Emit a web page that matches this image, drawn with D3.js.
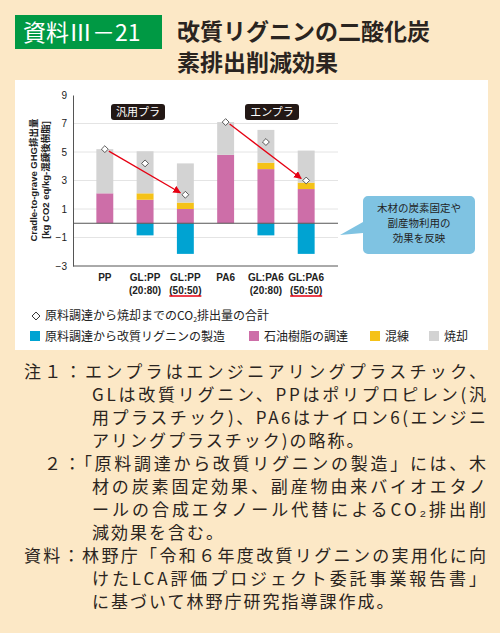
<!DOCTYPE html>
<html>
<head>
<meta charset="utf-8">
<script src="https://cdn.jsdelivr.net/npm/d3@7"></script>
<style>
	body { margin: 0; background: #fce8c6; }
	svg { display: block; font-family: "Noto Sans CJK JP", sans-serif; }
</style>
</head>
<body>
<svg id="chart" width="500" height="633"></svg>
<script>
	// chart data
	var categories = ['PP', 'GL:PP|(20:80)', 'GL:PP|(50:50)', 'PA6', 'GL:PA6|(20:80)', 'GL:PA6|(50:50)'];
	var lignin = [0, -0.85, -2.15, 0, -0.85, -2.15];      // 原料調達から改質リグニンの製造
	var resin = [2.1, 1.65, 1.0, 4.8, 3.8, 2.4];          // 石油樹脂の調達
	var kneading = [0, 0.45, 0.45, 0, 0.45, 0.45];        // 混練
	var incineration = [3.1, 2.95, 2.75, 2.3, 2.3, 2.25]; // 焼却
	var totals = [5.2, 4.2, 2.0, 7.1, 5.7, 3.0];
	var yTicks = [-3, -1, 1, 3, 5, 7, 9];
	var underlined = [2, 5];

	var colors = { lignin: '#00a3d2', resin: '#cd6ea8', kneading: '#f5c218', incineration: '#d3d3d3' };

	var svg = d3.select('#chart');

	// header
	svg.append('rect').attr('x', 15).attr('y', 15).attr('width', 147).attr('height', 34).attr('fill', '#009944');
	svg.append('text').attr('x', 23).attr('y', 41).attr('fill', '#fff').attr('font-size', 23).text('資料Ⅲ－21');
	svg.append('text').attr('x', 177).attr('y', 40).attr('fill', '#2a2420').attr('font-size', 23).attr('font-weight', 'bold').text('改質リグニンの二酸化炭');
	svg.append('text').attr('x', 177).attr('y', 71).attr('fill', '#2a2420').attr('font-size', 23).attr('font-weight', 'bold').text('素排出削減効果');

	// white panel
	svg.append('rect').attr('x', 15).attr('y', 80).attr('width', 473).attr('height', 270).attr('fill', '#fff');

	var x = d3.scaleBand().domain(d3.range(categories.length)).range([73, 338]).padding(0.58);
	var y = d3.scaleLinear().domain([-3, 9]).range([266, 95]);

	var g = svg.append('g');

	// grid
	g.selectAll('.grid').data(yTicks.filter(function(d) { return d > -3 && d < 9; }))
		.enter().append('line')
		.attr('x1', 73).attr('x2', 338)
		.attr('y1', function(d) { return y(d); }).attr('y2', function(d) { return y(d); })
		.attr('stroke', '#e4e4e4');

	// stacked bars
	categories.forEach(function(c, i) {
		var bx = x(i), bw = x.bandwidth();
		var b0 = resin[i], b1 = b0 + kneading[i], b2 = b1 + incineration[i];
		var segs = [
			[lignin[i], 0, colors.lignin],
			[0, b0, colors.resin],
			[b0, b1, colors.kneading],
			[b1, b2, colors.incineration]
		];
		segs.forEach(function(s) {
			if (s[0] === s[1]) return;
			g.append('rect').attr('x', bx).attr('width', bw)
				.attr('y', y(Math.max(s[0], s[1])))
				.attr('height', Math.abs(y(s[0]) - y(s[1])))
				.attr('fill', s[2]);
		});
	});

	// zero line and axes
	g.append('line').attr('x1', 73).attr('x2', 338).attr('y1', y(0)).attr('y2', y(0)).attr('stroke', '#555');
	var yAxis = g.append('g').attr('transform', 'translate(73,0)')
		.call(d3.axisLeft(y).tickValues(yTicks).tickSize(0).tickPadding(6));
	yAxis.select('.domain').attr('stroke', '#555');
	yAxis.selectAll('text').attr('font-size', 10).attr('font-family', 'Liberation Sans, sans-serif').attr('fill', '#222');
	g.append('line').attr('x1', 73).attr('x2', 338).attr('y1', 266).attr('y2', 266).attr('stroke', '#555');

	// arrows
	var defs = svg.append('defs');
	defs.append('marker').attr('id', 'ah').attr('viewBox', '0 0 10 10').attr('refX', 9).attr('refY', 5)
		.attr('markerWidth', 6).attr('markerHeight', 6).attr('orient', 'auto')
		.append('path').attr('d', 'M0,0L10,5L0,10z').attr('fill', '#e60012');
	[[0, 2], [3, 5]].forEach(function(p) {
		var x1 = x(p[0]) + x.bandwidth() / 2, x2 = x(p[1]) + x.bandwidth() / 2;
		g.append('line').attr('x1', x1 + 4).attr('y1', y(totals[p[0]]) + 2)
			.attr('x2', x2 - 5).attr('y2', y(totals[p[1]]) - 2)
			.attr('stroke', '#e60012').attr('stroke-width', 1.3).attr('marker-end', 'url(#ah)');
	});

	// totals diamonds
	g.selectAll('.dia').data(totals).enter().append('path')
		.attr('d', d3.symbol().type(d3.symbolDiamond2).size(30))
		.attr('transform', function(d, i) { return 'translate(' + (x(i) + x.bandwidth() / 2) + ',' + y(d) + ')'; })
		.attr('fill', '#fff').attr('stroke', '#333').attr('stroke-width', 0.8);

	// group labels
	[['汎用プラ', 138], ['エンプラ', 272]].forEach(function(l) {
		g.append('rect').attr('x', l[1] - 27).attr('y', 104).attr('width', 54).attr('height', 16).attr('rx', 3).attr('fill', '#231815');
		g.append('text').attr('x', l[1]).attr('y', 116).attr('text-anchor', 'middle').attr('fill', '#fff').attr('font-size', 11).text(l[0]);
	});

	// category labels
	categories.forEach(function(c, i) {
		var cx = x(i) + x.bandwidth() / 2;
		c.split('|').forEach(function(line, j) {
			g.append('text').attr('x', cx).attr('y', 281 + j * 13).attr('text-anchor', 'middle')
				.attr('font-size', 10).attr('font-weight', 'bold').attr('font-family', 'Liberation Sans, sans-serif')
				.attr('fill', '#222').text(line);
		});
	});
	underlined.forEach(function(i) {
		var cx = x(i) + x.bandwidth() / 2;
		g.append('line').attr('x1', cx - 16).attr('x2', cx + 16).attr('y1', 296).attr('y2', 296)
			.attr('stroke', '#e60012').attr('stroke-width', 1.5);
	});

	// y title
	var yt = g.append('text').attr('transform', 'translate(37,180) rotate(-90)').attr('text-anchor', 'middle')
		.attr('font-size', 9.5).attr('font-weight', 'bold').attr('fill', '#222').attr('font-family', 'Liberation Sans, "Noto Sans CJK JP", sans-serif');
	yt.append('tspan').attr('x', 0).attr('dy', 0).text('Cradle-to-grave GHG排出量');
	yt.append('tspan').attr('x', 0).attr('dy', 12).text('[kg CO2 eq/kg-混錬後樹脂]');

	// callout
	svg.append('path').attr('d', 'M368,196H470a5,5 0 0 1 5,5V249a5,5 0 0 1 -5,5H368a5,5 0 0 1 -5,-5V233L340,235L363,222V201a5,5 0 0 1 5,-5z')
		.attr('fill', '#7fc3e2');
	['木材の炭素固定や', '副産物利用の', '効果を反映'].forEach(function(t, i) {
		svg.append('text').attr('x', 419).attr('y', 212 + i * 15).attr('text-anchor', 'middle').attr('font-size', 10.5).attr('fill', '#222').text(t);
	});

	// legend
	var lg = svg.append('g').attr('font-size', 12).attr('fill', '#222');
	lg.append('path').attr('d', d3.symbol().type(d3.symbolDiamond2).size(40)).attr('transform', 'translate(36,316)')
		.attr('fill', '#fff').attr('stroke', '#333');
	var t1 = lg.append('text').attr('x', 45).attr('y', 320);
	t1.append('tspan').text('原料調達から焼却までのCO');
	t1.append('tspan').attr('font-size', 7).attr('dy', 2).text('2');
	t1.append('tspan').attr('dy', -2).text('排出量の合計');
	[['原料調達から改質リグニンの製造', colors.lignin, 30], ['石油樹脂の調達', colors.resin, 249], ['混練', colors.kneading, 370], ['焼却', colors.incineration, 429]]
		.forEach(function(l) {
			lg.append('rect').attr('x', l[2]).attr('y', 331).attr('width', 10).attr('height', 10).attr('fill', l[1]);
			lg.append('text').attr('x', l[2] + 15).attr('y', 341).text(l[0]);
		});

	// notes: [x, text, full-width line?]
	var notes = [
		[24, '注１：エンプラはエンジニアリングプラスチック、', true],
		[92, 'GLは改質リグニン、PPはポリプロピレン(汎', true],
		[92, '用プラスチック)、PA6はナイロン6(エンジニ', true],
		[92, 'アリングプラスチック)の略称。', false],
		[44, '２：「原料調達から改質リグニンの製造」には、木', true],
		[92, '材の炭素固定効果、副産物由来バイオエタノ', true],
		[92, 'ールの合成エタノール代替によるCO₂排出削', true],
		[92, '減効果を含む。', false],
		[24, '資料：林野庁「令和６年度改質リグニンの実用化に向', true],
		[92, 'けたLCA評価プロジェクト委託事業報告書」', true],
		[92, 'に基づいて林野庁研究指導課作成。', false]
	];
	notes.forEach(function(n, i) {
		var t = svg.append('text').attr('x', n[0]).attr('y', 378 + i * 23).attr('font-size', 17).attr('fill', '#2a2420').text(n[1]);
		if (n[2]) t.attr('textLength', 486 - n[0]).attr('lengthAdjust', 'spacing');
		else t.attr('letter-spacing', 2);
	});
</script>
</body>
</html>
